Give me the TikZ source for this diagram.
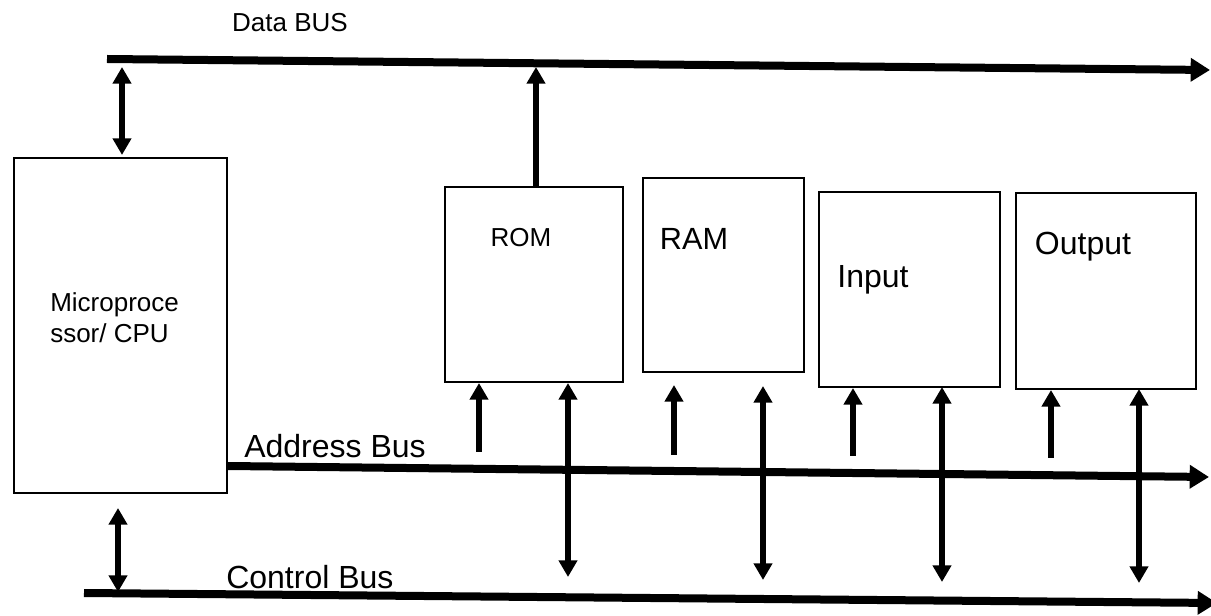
\documentclass[tikz,border=0pt]{standalone}
\usepackage{fontspec}
\setmainfont{Liberation Sans}
\usetikzlibrary{arrows.meta,fit}
\tikzset{
  box/.style={draw, line width=1.5pt, inner sep=0pt},
  bus/.style={line width=6pt, -{Triangle[length=14.5pt,width=17pt]}},
  oneway/.style={line width=4.4pt, -{Triangle[length=12.5pt,width=13.5pt]}},
  twoway/.style={line width=4.4pt, {Triangle[length=12.5pt,width=13.5pt]}-{Triangle[length=12.5pt,width=13.5pt]}},
  txtS/.style={font=\fontsize{19.5}{22.5}\selectfont, inner sep=0pt},
  txtM/.style={font=\fontsize{23}{27}\selectfont, inner sep=0pt},
  txtL/.style={font=\fontsize{24}{28}\selectfont, inner sep=0pt}
}
\begin{document}
\begin{tikzpicture}[x=0.75pt,y=-0.75pt]
\useasboundingbox (0,0) rectangle (1211,616);

% units
\node[box, fit={(14,158) (227,493)}] (cpu) {};
\node[box, fit={(445,187) (623,382)}] (rom) {};
\node[box, fit={(643,178) (804,372)}] (ram) {};
\node[box, fit={(819,192) (1000,387)}] (inp) {};
\node[box, fit={(1016,193) (1196,389)}] (out) {};

% labels
\node[txtS, anchor=base west] (cpuA) at (50,312) {Microproce};
\node[txtS, anchor=base west] (cpuB) at (50,343) {ssor/ CPU};
\node[txtS, anchor=base] (romT) at (521,247) {ROM};
\node[txtM, anchor=base] (ramT) at (694,250) {RAM};
\node[txtL, anchor=base] (inpT) at (873,288) {Input};
\node[txtL, anchor=base] (outT) at (1083,255) {Output};
\node[txtS, anchor=base] (dataT) at (290,32) {Data BUS};
\node[txtL, anchor=base west] (addrT) at (244,458) {Address Bus};
\node[txtL, anchor=base west] (ctrlT) at (226,588) {Control Bus};

% bus end points
\coordinate (db0) at (107,59);
\coordinate (db1) at (1210,70);
\coordinate (ab0) at (227,466);
\coordinate (ab1) at (1209,477);
\coordinate (cb0) at (84,593);
\coordinate (cb1) at (1217,603);

% buses
\draw[bus] (db0) -- (db1);
\draw[bus] (cpu.east |- ab0) -- (ab1);
\draw[bus] (cb0) -- (cb1);

% CPU links
\coordinate (cpuD0) at (122,67);
\coordinate (cpuD1) at (122,155);
\draw[twoway] (cpuD0) -- (cpuD1);
\coordinate (cpuC0) at (118,508);
\coordinate (cpuC1) at (118,592);
\draw[twoway] (cpuC0) -- (cpuC1);

% ROM links
\coordinate (romD) at (536,67);
\draw[oneway] (rom.north -| romD) -- (romD);
\coordinate (romA) at (479,452);
\draw[oneway] (romA) -- (romA |- rom.south);
\coordinate (romC0) at (568,383);
\coordinate (romC1) at (568,577);
\draw[twoway] (romC0) -- (romC1);

% RAM links
\coordinate (ramA0) at (674,455);
\coordinate (ramA1) at (674,385);
\draw[oneway] (ramA0) -- (ramA1);
\coordinate (ramC0) at (763,386);
\coordinate (ramC1) at (763,580);
\draw[twoway] (ramC0) -- (ramC1);

% Input links
\coordinate (inpA) at (853,456);
\draw[oneway] (inpA) -- (inpA |- inp.south);
\coordinate (inpC0) at (942,387);
\coordinate (inpC1) at (942,582);
\draw[twoway] (inpC0) -- (inpC1);

% Output links
\coordinate (outA) at (1051,458);
\draw[oneway] (outA) -- (outA |- out.south);
\coordinate (outC0) at (1139,389);
\coordinate (outC1) at (1139,583);
\draw[twoway] (outC0) -- (outC1);
\end{tikzpicture}
\end{document}
